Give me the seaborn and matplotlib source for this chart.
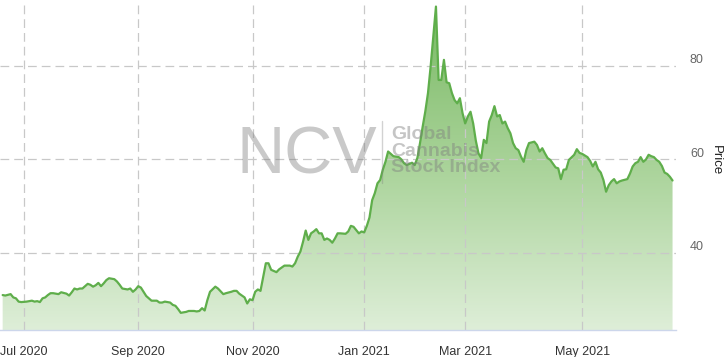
import numpy as np
import pandas as pd
import matplotlib
matplotlib.use("Agg")
import matplotlib.pyplot as plt
import matplotlib.transforms as mtransforms
import seaborn as sns
from matplotlib.colors import LinearSegmentedColormap
from matplotlib.patches import Polygon
from matplotlib.lines import Line2D

# ---------------- data ----------------
dates = [
    "2020-06-19", "2020-06-22", "2020-06-24", "2020-06-25", "2020-06-26", "2020-06-29", "2020-06-30",
    "2020-07-02", "2020-07-06", "2020-07-07", "2020-07-08", "2020-07-09", "2020-07-10", "2020-07-13",
    "2020-07-14", "2020-07-15", "2020-07-16", "2020-07-17", "2020-07-21", "2020-07-22", "2020-07-24",
    "2020-07-27", "2020-07-28", "2020-07-29", "2020-07-30", "2020-07-31",
    "2020-08-03", "2020-08-04", "2020-08-05", "2020-08-06", "2020-08-07", "2020-08-10", "2020-08-11",
    "2020-08-12", "2020-08-13", "2020-08-14", "2020-08-17", "2020-08-19", "2020-08-20", "2020-08-21",
    "2020-08-24", "2020-08-26", "2020-08-27", "2020-08-28", "2020-08-31",
    "2020-09-01", "2020-09-02", "2020-09-03", "2020-09-04", "2020-09-08", "2020-09-09", "2020-09-11",
    "2020-09-14", "2020-09-15", "2020-09-16", "2020-09-18", "2020-09-21", "2020-09-22", "2020-09-23",
    "2020-09-24", "2020-09-28", "2020-09-29",
    "2020-10-01", "2020-10-02", "2020-10-05", "2020-10-06", "2020-10-07", "2020-10-08", "2020-10-09",
    "2020-10-13", "2020-10-14", "2020-10-16", "2020-10-19", "2020-10-21", "2020-10-22", "2020-10-23",
    "2020-10-26", "2020-10-28", "2020-10-29", "2020-10-30",
    "2020-11-02", "2020-11-03", "2020-11-04", "2020-11-05", "2020-11-06", "2020-11-09", "2020-11-10",
    "2020-11-11", "2020-11-13", "2020-11-16", "2020-11-17", "2020-11-18", "2020-11-20", "2020-11-23",
    "2020-11-24", "2020-11-25", "2020-11-27", "2020-11-30",
    "2020-12-01", "2020-12-02", "2020-12-03", "2020-12-04", "2020-12-07", "2020-12-08", "2020-12-09",
    "2020-12-10", "2020-12-11", "2020-12-14", "2020-12-15", "2020-12-16", "2020-12-17", "2020-12-18",
    "2020-12-22", "2020-12-23", "2020-12-24", "2020-12-28", "2020-12-30", "2020-12-31",
    "2021-01-04", "2021-01-05", "2021-01-06", "2021-01-07", "2021-01-08", "2021-01-11", "2021-01-12",
    "2021-01-13", "2021-01-14", "2021-01-15", "2021-01-19", "2021-01-20", "2021-01-22", "2021-01-25",
    "2021-01-26", "2021-01-27", "2021-01-29",
    "2021-02-01", "2021-02-02", "2021-02-03", "2021-02-04", "2021-02-05", "2021-02-08", "2021-02-09",
    "2021-02-10", "2021-02-11", "2021-02-12", "2021-02-16", "2021-02-17", "2021-02-18", "2021-02-19",
    "2021-02-22", "2021-02-23", "2021-02-24", "2021-02-25", "2021-02-26",
    "2021-03-01", "2021-03-02", "2021-03-03", "2021-03-04", "2021-03-05", "2021-03-08", "2021-03-09",
    "2021-03-10", "2021-03-11", "2021-03-12", "2021-03-15", "2021-03-16", "2021-03-17", "2021-03-18",
    "2021-03-19", "2021-03-22", "2021-03-23", "2021-03-24", "2021-03-25", "2021-03-26", "2021-03-29",
    "2021-03-30", "2021-03-31",
    "2021-04-01", "2021-04-05", "2021-04-07", "2021-04-08", "2021-04-09", "2021-04-12", "2021-04-13",
    "2021-04-14", "2021-04-15", "2021-04-19", "2021-04-20", "2021-04-21", "2021-04-22", "2021-04-23",
    "2021-04-26", "2021-04-28", "2021-04-29", "2021-04-30",
    "2021-05-03", "2021-05-05", "2021-05-06", "2021-05-07", "2021-05-10", "2021-05-11", "2021-05-12",
    "2021-05-13", "2021-05-14", "2021-05-17", "2021-05-18", "2021-05-19", "2021-05-20", "2021-05-21",
    "2021-05-24", "2021-05-26", "2021-05-27", "2021-05-28",
    "2021-06-01", "2021-06-02", "2021-06-03", "2021-06-04", "2021-06-07", "2021-06-08", "2021-06-09",
    "2021-06-10", "2021-06-11", "2021-06-14", "2021-06-15", "2021-06-16", "2021-06-17", "2021-06-18",
    "2021-06-21",
]

prices = [
    31.0, 30.9, 31.2, 30.5, 30.3, 29.6, 29.5,
    29.6, 29.7, 29.8, 29.6, 29.7, 29.5, 30.3,
    30.5, 31.0, 31.4, 31.4, 31.2, 31.6, 31.3,
    30.9, 31.6, 32.4, 32.2, 32.4,
    32.4, 32.9, 33.4, 33.2, 32.8, 33.1, 33.6,
    32.9, 33.5, 34.2, 34.6, 34.4, 33.9, 33.2,
    32.4, 32.2, 32.4, 31.7, 32.2,
    32.9, 32.6, 31.7, 30.8, 30.3, 29.8, 29.8,
    29.4, 29.4, 29.6, 29.4, 28.9, 28.7, 28.0,
    27.2, 27.4, 27.6,
    27.6, 27.5, 27.6, 28.2, 27.7, 29.9, 31.7,
    32.8, 32.4, 31.2, 31.4, 31.7, 31.9, 31.9,
    31.3, 30.5, 29.2, 30.1,
    29.9, 31.7, 32.2, 31.9, 34.9, 37.8, 37.8,
    36.4, 35.9, 36.5, 36.9, 37.3, 37.3, 37.1,
    37.8, 39.2, 40.3, 42.4,
    44.8, 42.8, 44.2, 44.6, 45.1, 44.2, 44.2,
    42.8, 43.1, 42.8, 42.2, 43.1, 44.2, 44.2,
    44.1, 44.6, 45.8, 45.6, 44.2, 44.6,
    44.4, 45.8, 47.6, 51.3, 52.8, 54.9, 55.6,
    57.8, 59.5, 61.7, 61.2, 60.7, 60.5, 60.0,
    59.2, 58.8, 59.3,
    58.8, 60.3, 63.5, 67.0, 70.3, 74.2, 79.9,
    86.3, 92.7, 77.0, 77.0, 81.3, 76.5, 76.3,
    74.2, 72.7, 72.0, 73.1, 69.9,
    67.7, 69.2, 70.2, 67.7, 64.0, 61.3, 60.3,
    64.2, 63.5, 68.1, 69.5, 71.4, 69.2, 69.5,
    67.7, 68.1, 66.7, 65.6, 63.5, 62.4, 62.0,
    60.6, 59.5,
    62.0, 63.5, 63.8, 63.1, 61.7, 62.4, 61.3,
    60.3, 59.9, 58.3, 58.1, 55.8, 57.8, 57.9,
    59.9, 61.0, 62.2, 61.4,
    61.2, 60.5, 59.7, 58.5, 59.5, 57.9, 57.2,
    55.6, 53.1, 54.5, 55.3, 55.8, 54.9, 55.3,
    55.5, 55.8, 57.0, 58.5,
    59.2, 59.5, 60.5, 59.5, 60.0, 61.0, 60.7,
    60.5, 59.9, 59.5, 58.6, 57.2, 56.9, 56.3,
    55.5,
]

market_holidays = ["2020-07-03", "2020-09-07", "2020-11-26", "2020-12-25", "2021-01-01",
                   "2021-01-18", "2021-02-15", "2021-04-02", "2021-05-31"]
tick_months = ["2020-07", "2020-09", "2020-11", "2021-01", "2021-03", "2021-05"]
tick_labels = ["Jul 2020", "Sep 2020", "Nov 2020", "Jan 2021", "Mar 2021", "May 2021"]
y_ticks = [40, 60, 80]
y_label = "Price"
watermark_big = "NCV"
watermark_lines = ["Global", "Cannabis", "Stock Index"]

# ---------------- ordinal (trading session) axis ----------------
sessions = pd.bdate_range("2020-06-19", "2021-06-21")
sessions = sessions[~sessions.isin(pd.to_datetime(market_holidays))]
session_pos = pd.Series(np.arange(len(sessions)), index=sessions)

df = pd.DataFrame({"date": pd.to_datetime(dates), "price": prices})
df["session"] = df["date"].map(session_pos).astype(int)

month_str = sessions.strftime("%Y-%m")
tick_pos = [int(np.argmax(month_str == m)) for m in tick_months]

# ---------------- figure ----------------
sns.set_style("white")
plt.rcParams["font.family"] = ["Liberation Sans", "DejaVu Sans"]

W, H = 726, 357
fig = plt.figure(figsize=(W / 100, H / 100), dpi=100)
ax = fig.add_axes([0, 27 / H, 676 / W, 330 / H])

x0, x1 = -1.0, 253.3
y0, y1 = 23.53, 94.1
ax.set_xlim(x0, x1)
ax.set_ylim(y0, y1)

# gradient area fill
cmap = LinearSegmentedColormap.from_list("grn", ["#78b862", "#a9d399", "#deeed8"])
grad = np.linspace(0, 1, 256).reshape(-1, 1)
im = ax.imshow(grad, extent=[x0, x1, y0, y1], origin="upper", aspect="auto",
               cmap=cmap, zorder=1, interpolation="bilinear")
xs = df["session"].to_numpy()
ys = df["price"].to_numpy()
verts = np.vstack([np.column_stack([xs, ys]), [[xs[-1], y0], [xs[0], y0]]])
clip = Polygon(verts, closed=True, transform=ax.transData, facecolor="none", edgecolor="none")
ax.add_patch(clip)
im.set_clip_path(clip)

sns.lineplot(data=df, x="session", y="price", ax=ax, color="#5fae4b", linewidth=1.6,
             zorder=3, legend=False)

# grid
ax.set_xticks(tick_pos)
ax.set_xticklabels(tick_labels)
ax.set_yticks(y_ticks)
ax.grid(True, color="#c8c8c8", linestyle=(0, (7, 4)), linewidth=0.9, zorder=2)
ax.set_axisbelow(False)
for gl in ax.get_xgridlines() + ax.get_ygridlines():
    gl.set_zorder(2)

ax.yaxis.tick_right()
ax.tick_params(axis="y", length=0, pad=10, labelsize=9, labelcolor="#666666")
ax.tick_params(axis="x", length=5, width=1, color="#ccd6eb", pad=6.5, labelsize=9,
               labelcolor="#333333")
# y labels sit a little above their grid lines
up = mtransforms.ScaledTranslation(0, 7 / 100, fig.dpi_scale_trans)
for lab in ax.get_yticklabels():
    lab.set_transform(lab.get_transform() + up)
ax.set_xlabel("")
ax.set_ylabel("")
for s in ["top", "left", "right"]:
    ax.spines[s].set_visible(False)
ax.spines["bottom"].set_color("#ccd6eb")
ax.spines["bottom"].set_linewidth(1)
ax.spines["bottom"].set_zorder(4)

fig.text(716 / W, 1 - 160 / H, y_label, rotation=270, ha="center", va="center",
         fontsize=9.5, color="#222222")

# watermark
fig.text(236 / W, 1 - 173 / H, watermark_big, fontsize=48, color="#808080", alpha=0.42,
         ha="left", va="baseline", zorder=5)
fig.add_artist(Line2D([381.5 / W, 381.5 / W], [1 - 121 / H, 1 - 183 / H],
                      color="#808080", alpha=0.35, linewidth=1, zorder=5))
for i, line in enumerate(watermark_lines):
    fig.text(391 / W, 1 - (139 + 16.7 * i) / H, line, fontsize=14, fontweight="bold",
             color="#808080", alpha=0.45, ha="left", va="baseline", zorder=5)

fig.savefig("out.png", dpi=100)
